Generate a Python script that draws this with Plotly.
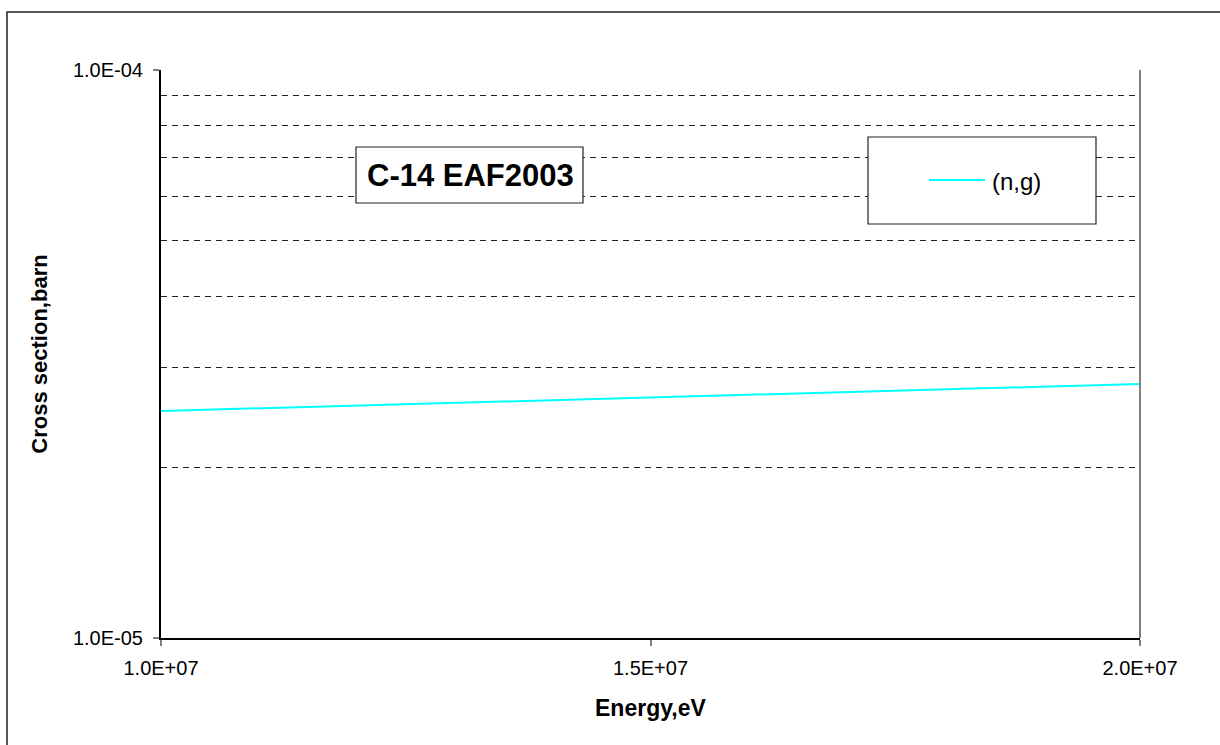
import plotly.graph_objects as go

# C-14 (n,g) cross section, EAF2003 library
energy_ev = [1.0e7, 1.25e7, 1.5e7, 1.75e7, 2.0e7]
xs_ng_barn = [2.51e-5, 2.58e-5, 2.655e-5, 2.73e-5, 2.80e-5]

x_tick_vals = [1.0e7, 1.5e7, 2.0e7]
x_tick_text = ["1.0E+07", "1.5E+07", "2.0E+07"]
y_tick_vals = [1.0e-5, 1.0e-4]
y_tick_text = ["1.0E-05", "1.0E-04"]
y_minor_vals = [2e-5, 3e-5, 4e-5, 5e-5, 6e-5, 7e-5, 8e-5, 9e-5]

chart_title = "C-14 EAF2003"
series_name = "(n,g)"
x_title = "Energy,eV"
y_title = "Cross section,barn"

FONT = "Liberation Sans, Arial, sans-serif"
W, H = 1220, 745
L, R, T, B = 161, 80, 70, 107
PW, PH = W - L - R, H - T - B


def px(xpix):
    return (xpix - L) / PW


def py(ypix):
    return (H - B - ypix) / PH


fig = go.Figure()
fig.add_trace(go.Scatter(
    x=energy_ev, y=xs_ng_barn, mode="lines", name=series_name,
    line=dict(color="#00FFFF", width=2), showlegend=False,
))

shapes = [
    # outer chart frame
    dict(type="rect", xref="paper", yref="paper",
         x0=px(7), x1=px(1230), y0=py(755), y1=py(12),
         line=dict(color="#222222", width=1.5), layer="below"),
    # right edge of the plot area
    dict(type="line", xref="paper", yref="paper", x0=1, x1=1, y0=0, y1=1,
         line=dict(color="#808080", width=2), layer="above"),
    # title box
    dict(type="rect", xref="paper", yref="paper",
         x0=px(356), x1=px(583), y0=py(203), y1=py(147),
         line=dict(color="#222222", width=1.2), fillcolor="white", layer="above"),
    # legend box
    dict(type="rect", xref="paper", yref="paper",
         x0=px(868), x1=px(1096), y0=py(224), y1=py(137),
         line=dict(color="#222222", width=1.2), fillcolor="white", layer="above"),
    # legend sample line
    dict(type="line", xref="paper", yref="paper",
         x0=px(929), x1=px(985), y0=py(180), y1=py(180),
         line=dict(color="#00FFFF", width=2), layer="above"),
]

annotations = [
    dict(text="<b>" + chart_title + "</b>", xref="paper", yref="paper",
         x=px(470), y=py(175), xanchor="center", yanchor="middle",
         showarrow=False, font=dict(family=FONT, size=31, color="black")),
    dict(text=series_name, xref="paper", yref="paper",
         x=px(990), y=py(181), xanchor="left", yanchor="middle",
         showarrow=False, font=dict(family=FONT, size=24, color="black")),
    # x-axis title
    dict(text="<b>" + x_title + "</b>", xref="paper", yref="paper",
         x=0.5, y=py(708), xanchor="center", yanchor="middle",
         showarrow=False, font=dict(family=FONT, size=23, color="black")),
]

fig.update_layout(
    width=W, height=H,
    margin=dict(l=L, r=R, t=T, b=B, pad=0),
    paper_bgcolor="white", plot_bgcolor="white",
    font=dict(family=FONT, color="black"),
    shapes=shapes, annotations=annotations,
    xaxis=dict(
        range=[1.0e7, 2.0e7], tickvals=x_tick_vals, ticktext=x_tick_text,
        showgrid=False, zeroline=False,
        showline=True, linecolor="black", linewidth=2,
        ticks="outside", ticklen=6, tickcolor="#808080", tickwidth=1.5,
        tickfont=dict(family=FONT, size=20), ticklabelstandoff=5,
    ),
    yaxis=dict(
        type="log", range=[-5, -4], tickvals=y_tick_vals, ticktext=y_tick_text,
        showgrid=True, gridcolor="#808080", gridwidth=1.5,
        zeroline=False, showline=True, linecolor="black", linewidth=2,
        ticks="outside", ticklen=6, tickcolor="#808080", tickwidth=1.5,
        tickfont=dict(family=FONT, size=20), ticklabelstandoff=6,
        minor=dict(tickvals=y_minor_vals, showgrid=True, gridcolor="#222222",
                   gridwidth=1, griddash="6px,5px", ticks=""),
        title=dict(text="<b>" + y_title + "</b>",
                   font=dict(family=FONT, size=22), standoff=19),
    ),
)

fig.write_html("out.html")
